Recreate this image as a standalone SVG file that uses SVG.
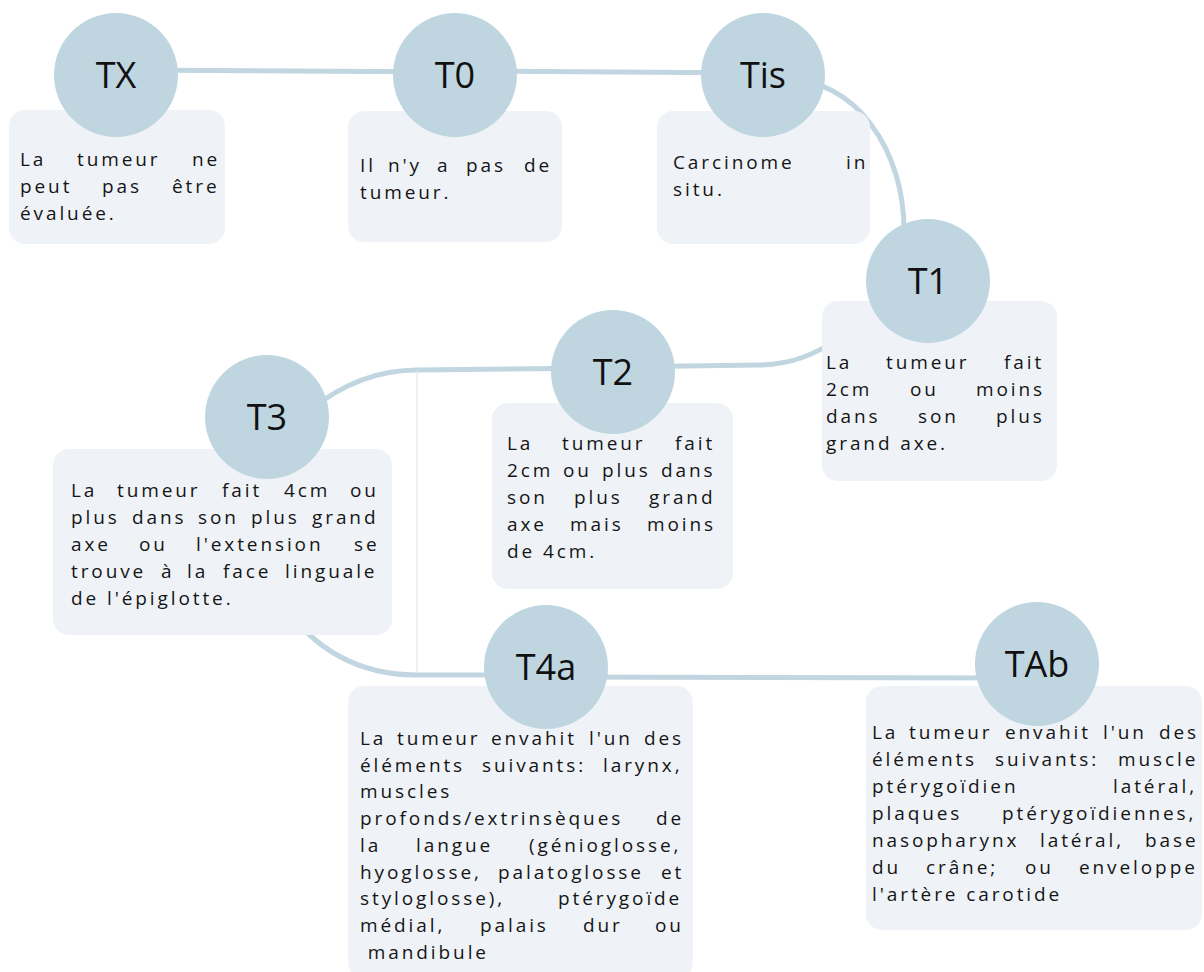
<svg xmlns="http://www.w3.org/2000/svg" width="1204" height="972" viewBox="0 0 1204 972">
<style>
.conn{fill:none;stroke:#c1d6e1;stroke-width:5}
.thin{fill:none;stroke:#d6e3ea;stroke-width:1}
.box{fill:#eff3f8}
.circ{fill:#bfd6e1}
.h{font-family:'Open Sans',sans-serif;font-size:36px;fill:#111;text-anchor:middle}
.t{font-family:'Open Sans',sans-serif;font-size:19px;letter-spacing:2.9px;fill:#151515}
</style>
<rect width="1204" height="972" fill="#fff"/>
<g id="connectors">
<path class="conn" d="M116 70 L455 72"/>
<path class="conn" d="M455 71 L763 73"/>
<path class="conn" d="M790 80 A114 150 0 0 1 904 230"/>
<path class="conn" d="M613 367 L758 365 C790 365 815 355 845 335"/>
<path class="conn" d="M613 368 L417 370 Q360 370 310 410"/>
<path class="thin" d="M417 370 L417 672"/>
<path class="conn" d="M280 600 Q330 675 417 675 L546 675"/>
<path class="conn" d="M546 677 L1037 678"/>
</g>
<g id="TX">
<rect class="box" x="9" y="110" width="216" height="134" rx="16"/>
<circle class="circ" cx="116" cy="75" r="62"/>
<text class="h" x="116" y="88">TX</text>
<text class="t" y="166"><tspan x="20">La</tspan><tspan x="77">tumeur</tspan><tspan x="192">ne</tspan></text>
<text class="t" y="193"><tspan x="20">peut</tspan><tspan x="102">pas</tspan><tspan x="172">être</tspan></text>
<text class="t" x="20" y="220">évaluée.</text>
</g>
<g id="T0">
<rect class="box" x="348" y="111" width="214" height="131" rx="16"/>
<circle class="circ" cx="455" cy="75" r="62"/>
<text class="h" x="455" y="88">T0</text>
<text class="t" y="172"><tspan x="360">Il</tspan><tspan x="388">n'y</tspan><tspan x="437">a</tspan><tspan x="466">pas</tspan><tspan x="524">de</tspan></text>
<text class="t" x="360" y="199">tumeur.</text>
</g>
<g id="Tis">
<rect class="box" x="657" y="111" width="213" height="133" rx="16"/>
<circle class="circ" cx="763" cy="75" r="62"/>
<text class="h" x="763" y="88">Tis</text>
<text class="t" y="169"><tspan x="673">Carcinome</tspan><tspan x="846">in</tspan></text>
<text class="t" x="673" y="196">situ.</text>
</g>
<g id="T1">
<rect class="box" x="822" y="301" width="235" height="180" rx="16"/>
<circle class="circ" cx="928" cy="281" r="62"/>
<text class="h" x="928" y="294">T1</text>
<text class="t" y="369"><tspan x="826">La</tspan><tspan x="886">tumeur</tspan><tspan x="1004">fait</tspan></text>
<text class="t" y="396"><tspan x="826">2cm</tspan><tspan x="910">ou</tspan><tspan x="976">moins</tspan></text>
<text class="t" y="423"><tspan x="826">dans</tspan><tspan x="918">son</tspan><tspan x="996">plus</tspan></text>
<text class="t" x="826" y="450">grand axe.</text>
</g>
<g id="T2">
<rect class="box" x="492" y="403" width="241" height="186" rx="16"/>
<circle class="circ" cx="613" cy="372" r="62"/>
<text class="h" x="613" y="385">T2</text>
<text class="t" y="450"><tspan x="507">La</tspan><tspan x="562">tumeur</tspan><tspan x="675">fait</tspan></text>
<text class="t" y="477"><tspan x="507">2cm</tspan><tspan x="563">ou</tspan><tspan x="602">plus</tspan><tspan x="661">dans</tspan></text>
<text class="t" y="504"><tspan x="507">son</tspan><tspan x="574">plus</tspan><tspan x="649">grand</tspan></text>
<text class="t" y="531"><tspan x="507">axe</tspan><tspan x="570">mais</tspan><tspan x="647">moins</tspan></text>
<text class="t" x="507" y="558">de 4cm.</text>
</g>
<g id="T3">
<rect class="box" x="53" y="449" width="339" height="186" rx="16"/>
<circle class="circ" cx="267" cy="417" r="62"/>
<text class="h" x="267" y="430">T3</text>
<text class="t" y="497"><tspan x="71">La</tspan><tspan x="117">tumeur</tspan><tspan x="222">fait</tspan><tspan x="284">4cm</tspan><tspan x="350">ou</tspan></text>
<text class="t" y="524"><tspan x="71">plus</tspan><tspan x="132">dans</tspan><tspan x="198">son</tspan><tspan x="251">plus</tspan><tspan x="312">grand</tspan></text>
<text class="t" y="551"><tspan x="71">axe</tspan><tspan x="139">ou</tspan><tspan x="196">l'extension</tspan><tspan x="354">se</tspan></text>
<text class="t" y="578"><tspan x="71">trouve</tspan><tspan x="161">à</tspan><tspan x="187">la</tspan><tspan x="223">face</tspan><tspan x="285">linguale</tspan></text>
<text class="t" x="71" y="605">de l'épiglotte.</text>
</g>
<g id="T4a">
<rect class="box" x="348" y="686" width="345" height="292" rx="16"/>
<circle class="circ" cx="546" cy="667" r="62"/>
<text class="h" x="546" y="680">T4a</text>
<text class="t" y="745"><tspan x="360">La</tspan><tspan x="397">tumeur</tspan><tspan x="491">envahit</tspan><tspan x="589">l'un</tspan><tspan x="644">des</tspan></text>
<text class="t" y="772"><tspan x="360">éléments</tspan><tspan x="482">suivants:</tspan><tspan x="603">larynx,</tspan></text>
<text class="t" x="360" y="798">muscles</text>
<text class="t" y="825"><tspan x="360">profonds/extrinsèques</tspan><tspan x="656">de</tspan></text>
<text class="t" y="852"><tspan x="360">la</tspan><tspan x="416">langue</tspan><tspan x="529">(génioglosse,</tspan></text>
<text class="t" y="879"><tspan x="360">hyoglosse,</tspan><tspan x="498">palatoglosse</tspan><tspan x="661">et</tspan></text>
<text class="t" y="905"><tspan x="360">styloglosse),</tspan><tspan x="558">ptérygoïde</tspan></text>
<text class="t" y="932"><tspan x="360">médial,</tspan><tspan x="480">palais</tspan><tspan x="583">dur</tspan><tspan x="655">ou</tspan></text>
<text class="t" x="360" y="959" xml:space="preserve"> mandibule</text>
</g>
<g id="TAb">
<rect class="box" x="866" y="686" width="336" height="244" rx="16"/>
<circle class="circ" cx="1037" cy="664" r="62"/>
<text class="h" x="1037" y="677">TAb</text>
<text class="t" y="739"><tspan x="872">La</tspan><tspan x="909">tumeur</tspan><tspan x="1005">envahit</tspan><tspan x="1103">l'un</tspan><tspan x="1159">des</tspan></text>
<text class="t" y="766"><tspan x="872">éléments</tspan><tspan x="995">suivants:</tspan><tspan x="1118">muscle</tspan></text>
<text class="t" y="793"><tspan x="872">ptérygoïdien</tspan><tspan x="1113">latéral,</tspan></text>
<text class="t" y="820"><tspan x="872">plaques</tspan><tspan x="1002">ptérygoïdiennes,</tspan></text>
<text class="t" y="847"><tspan x="872">nasopharynx</tspan><tspan x="1040">latéral,</tspan><tspan x="1145">base</tspan></text>
<text class="t" y="874"><tspan x="872">du</tspan><tspan x="926">crâne;</tspan><tspan x="1025">ou</tspan><tspan x="1079">enveloppe</tspan></text>
<text class="t" x="872" y="901">l'artère carotide</text>
</g>
</svg>
